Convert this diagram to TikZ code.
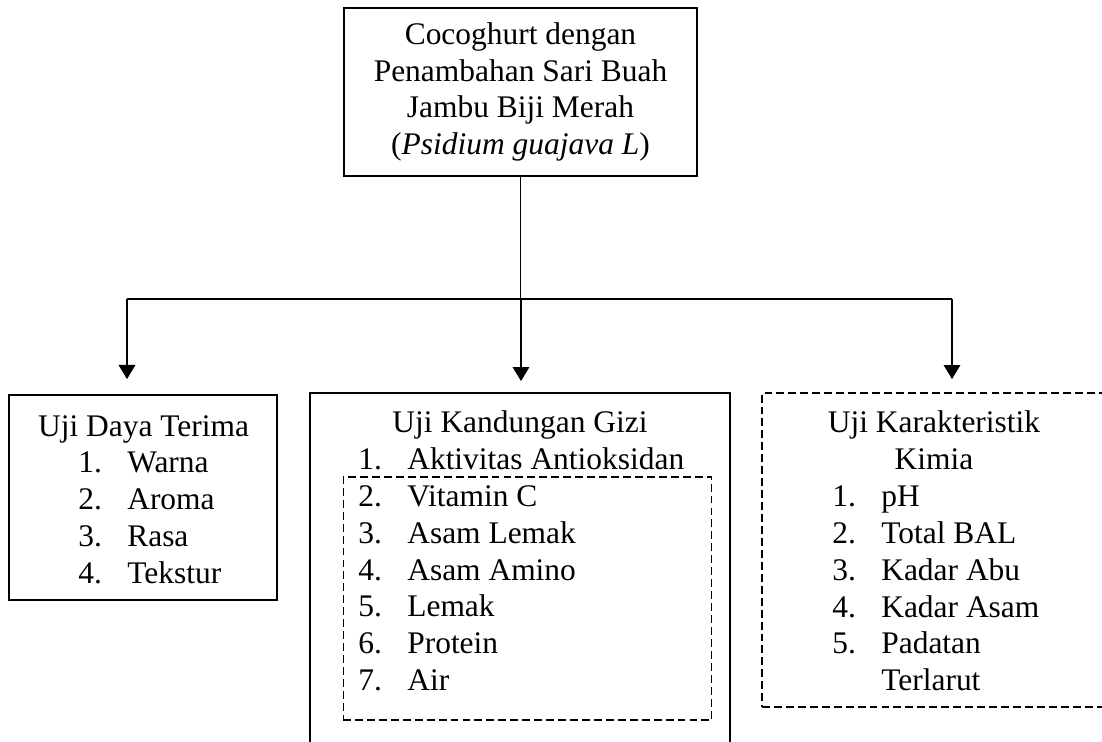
\documentclass[tikz,border=0pt]{standalone}
\usepackage{fontspec}
\setmainfont{Liberation Serif}
\usetikzlibrary{arrows.meta}
\newcommand\daftar[1]{\begin{tabular}[t]{@{}p{0.98cm}@{}l@{}}#1\end{tabular}}

\begin{document}
\begin{tikzpicture}[x=0.02cm,y=-0.02cm,
  teks/.style={font=\fontsize{17.9pt}{20.9pt}\selectfont, inner sep=0pt},
  kotak/.style={draw, line width=1.1pt, inner sep=0pt},
  putus/.style={draw, dash pattern=on 4.5pt off 2.3pt, inner sep=0pt},
  garis/.style={line width=0.6pt},
  panah/.style={garis, -{Triangle[length=8pt,width=9.5pt]}}]
  \useasboundingbox (0,0) rectangle (1102,742);
  \clip (0,0) rectangle (1102,742);

  % kotak utama
  \node (produk) [kotak, teks, align=center, minimum width=7.06cm, minimum height=3.36cm] at (520.5,92)
    {Cocoghurt dengan\\Penambahan Sari Buah\\Jambu Biji Merah\\(\textit{Psidium guajava L})};

  \coordinate (cabang) at (521,299);
  \coordinate (kiri) at (127,299);
  \coordinate (kanan) at (952,299);

  % uji daya terima
  \node (dayabox) [kotak, minimum width=5.36cm, minimum height=4.1cm] at (143,497.5) {};
  \node (dayahead) [teks, anchor=base] at (143.5,437) {Uji Daya Terima};
  \node (dayalist) [teks, anchor=base west] at (78,473)
    {\daftar{1.&Warna\\2.&Aroma\\3.&Rasa\\4.&Tekstur}};

  % uji kandungan gizi
  \node (gizibox) [kotak, minimum width=8.4cm, minimum height=8.14cm] at (520,596.5) {};
  \node (gizihead) [teks, anchor=base] at (520,433) {Uji Kandungan Gizi};
  \node (vitbox) [putus, line width=0.6pt, minimum width=7.38cm, minimum height=4.86cm] at (527.5,598.5) {};
  \node (gizilist) [teks, anchor=base west] at (358,470)
    {\daftar{1.&Aktivitas Antioksidan\\2.&Vitamin C\\3.&Asam Lemak\\4.&Asam Amino\\5.&Lemak\\6.&Protein\\7.&Air}};

  % uji karakteristik kimia
  \node (kimiabox) [putus, line width=1.1pt, minimum width=7.36cm, minimum height=6.28cm] at (946,550) {};
  \node (kimiahead) [teks, anchor=base] at (934,433)
    {\begin{tabular}[t]{@{}c@{}}Uji Karakteristik\\Kimia\end{tabular}};
  \node (kimialist) [teks, anchor=base west] at (832,507)
    {\daftar{1.&pH\\2.&Total BAL\\3.&Kadar Abu\\4.&Kadar Asam\\5.&Padatan\\&Terlarut}};

  % garis penghubung
  \draw[garis] (produk.south) -- (produk.south |- cabang);
  \draw[garis] (kiri) -- (kanan);
  \draw[panah, shorten >=0.3cm] (kiri) -- (kiri |- dayabox.north);
  \draw[panah, shorten >=0.22cm] (cabang) -- (cabang |- gizibox.north);
  \draw[panah, shorten >=0.26cm] (kanan) -- (kanan |- kimiabox.north);
\end{tikzpicture}
\end{document}
